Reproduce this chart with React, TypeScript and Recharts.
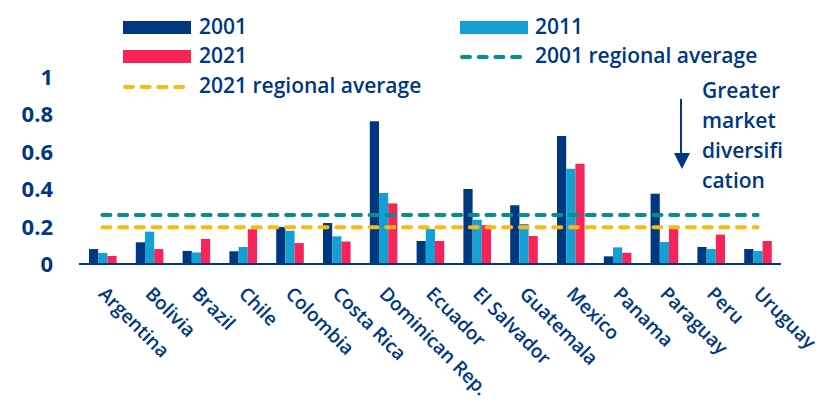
import { ComposedChart, Bar, XAxis, YAxis, ReferenceLine } from 'recharts';

const countries = [
  'Argentina', 'Bolivia', 'Brazil', 'Chile', 'Colombia', 'Costa Rica', 'Dominican Rep.',
  'Ecuador', 'El Salvador', 'Guatemala', 'Mexico', 'Panama', 'Paraguay', 'Peru', 'Uruguay',
];
const values2001 = [0.08, 0.116, 0.07, 0.068, 0.198, 0.219, 0.763, 0.123, 0.401, 0.314, 0.684, 0.041, 0.376, 0.091, 0.08];
const values2011 = [0.059, 0.173, 0.062, 0.091, 0.178, 0.148, 0.38, 0.187, 0.237, 0.214, 0.51, 0.089, 0.118, 0.08, 0.07];
const values2021 = [0.043, 0.08, 0.134, 0.186, 0.112, 0.12, 0.324, 0.123, 0.208, 0.15, 0.536, 0.06, 0.191, 0.157, 0.123];
const avg2001 = 0.262;
const avg2021 = 0.196;
const yTicks = [0, 0.2, 0.4, 0.6, 0.8, 1];
const noteLines = ['Greater', 'market', 'diversifi', 'cation'];

const NAVY = '#003781';
const SKY = '#13A0D3';
const PINK = '#F62459';
const TEAL = '#00908D';
const GOLD = '#FDB913';
const FONT = '"Open Sans", "Noto Sans", sans-serif';

const data = countries.map((c, i) => ({
  country: c,
  y2001: values2001[i],
  y2011: values2011[i],
  y2021: values2021[i],
}));

const YTick = ({ x, y, payload }: any) => (
  <text x={x} y={y} dx={-18} dy="0.36em" textAnchor="end" fill={NAVY}
    style={{ fontFamily: FONT, fontSize: 22, fontWeight: 700 }}>
    {payload.value === 0 || payload.value === 1 ? payload.value : payload.value.toFixed(1)}
  </text>
);

const XTick = ({ x, y, payload }: any) => (
  <g transform={`translate(${x - 5},${y + 23}) rotate(45)`}>
    <text x={0} y={0} textAnchor="start" fill={NAVY}
      style={{ fontFamily: FONT, fontSize: 19, fontWeight: 600 }}>
      {payload.value}
    </text>
  </g>
);

const dash = { strokeWidth: 4, strokeDasharray: '8 8.7', strokeLinecap: 'round' as const };
const txt = { fontFamily: FONT, fontSize: 21, fontWeight: 600, fill: NAVY };

export default function App() {
  return (
    <div style={{ position: 'relative', width: 822, height: 412, background: '#fff' }}>
      <style>{'body{margin:0}'}</style>
      <ComposedChart width={822} height={412} data={data}
        margin={{ top: 77, right: 41, left: 0, bottom: 0 }} barGap={0}>
        <XAxis dataKey="country" interval={0} height={148} tickLine={false}
          axisLine={{ stroke: NAVY, strokeWidth: 2 }} tick={<XTick />} />
        <YAxis width={79} domain={[0, 1]} ticks={yTicks} axisLine={false} tickLine={false}
          tick={<YTick />} />
        <Bar dataKey="y2001" fill={NAVY} barSize={9.2} isAnimationActive={false} />
        <Bar dataKey="y2011" fill={SKY} barSize={9.2} isAnimationActive={false} />
        <Bar dataKey="y2021" fill={PINK} barSize={9.2} isAnimationActive={false} />
        <ReferenceLine segment={[{ x: countries[0], y: avg2001 }, { x: countries[countries.length - 1], y: avg2001 }]}
          stroke={TEAL} {...dash} />
        <ReferenceLine segment={[{ x: countries[0], y: avg2021 }, { x: countries[countries.length - 1], y: avg2021 }]}
          stroke={GOLD} {...dash} />
      </ComposedChart>
      <svg width={822} height={412} style={{ position: 'absolute', left: 0, top: 0, pointerEvents: 'none' }}>
        <rect x={123} y={21} width={68} height={13} fill={NAVY} />
        <text x={199} y={34} style={txt}>2001</text>
        <rect x={460} y={21} width={68} height={13} fill={SKY} />
        <text x={535} y={34} style={txt}>2011</text>
        <rect x={123} y={50} width={68} height={13} fill={PINK} />
        <text x={199} y={63} style={txt}>2021</text>
        <line x1={462} x2={527} y1={57} y2={57} stroke={TEAL} {...dash} />
        <text x={535} y={63} style={txt}>2001 regional average</text>
        <line x1={125} x2={190} y1={87} y2={87} stroke={GOLD} {...dash} />
        <text x={199} y={93} style={txt}>2021 regional average</text>
        <line x1={681} x2={681} y1={99} y2={156} stroke={NAVY} strokeWidth={2} />
        <polygon points="674,153 690,153 682,169" fill={NAVY} />
        {noteLines.map((t, i) => (
          <text key={t} x={702} y={98 + i * 30} style={txt}>{t}</text>
        ))}
      </svg>
    </div>
  );
}
